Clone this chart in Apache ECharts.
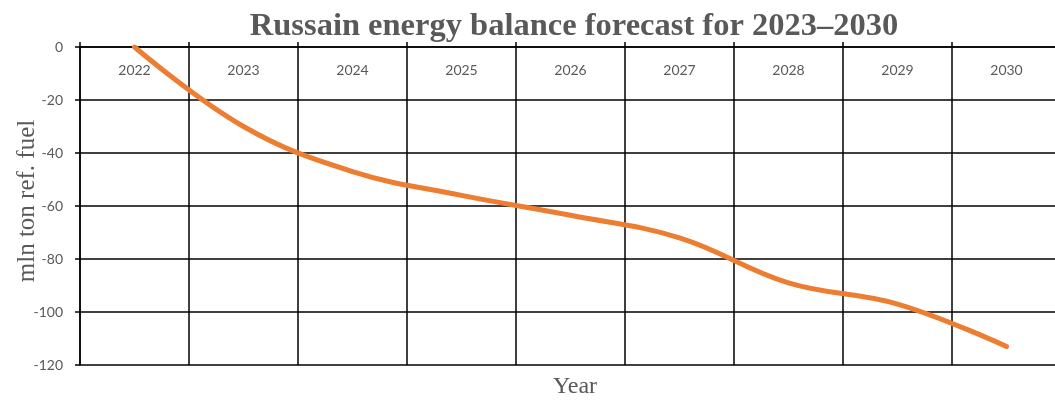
<!DOCTYPE html>
<html>
<head>
<meta charset="utf-8">
<script src="https://cdn.jsdelivr.net/npm/echarts@6/dist/echarts.min.js"></script>
<style>html,body{margin:0;padding:0;background:#fff}#c{width:1055px;height:405px}</style>
</head>
<body>
<div id="c"></div>
<script>
const categories = ['2022','2023','2024','2025','2026','2027','2028','2029','2030'];
const balance = [0, -30, -47, -56, -63.5, -72, -89, -97, -113];
const yTicks = { min: -120, max: 0, interval: 20 };

const chart = echarts.init(document.getElementById('c'), null, { renderer: 'canvas' });
chart.setOption({
  animation: false,
  backgroundColor: '#ffffff',
  title: [
    {
      text: 'Russain energy balance forecast for 2023–2030',
      left: 569, top: 5, textAlign: 'center',
      textStyle: { fontFamily: '"Liberation Serif", "DejaVu Serif", serif', fontWeight: 'bold', fontSize: 32.5, color: '#595959' }
    },
    {
      text: 'Year',
      left: 570, top: 370, textAlign: 'center',
      textStyle: { fontFamily: '"Liberation Serif", "DejaVu Serif", serif', fontWeight: 'normal', fontSize: 24, color: '#595959' }
    }
  ],
  grid: { left: 80, right: -6, top: 47, bottom: 40, containLabel: false, outerBoundsMode: 'none' },
  xAxis: {
    type: 'category',
    data: categories,
    position: 'top',
    boundaryGap: true,
    axisLine: { show: true, lineStyle: { color: '#000', width: 1.5 } },
    axisTick: { show: true, inside: false, length: 5, alignWithLabel: false, lineStyle: { color: '#000', width: 1.5 } },
    axisLabel: { inside: true, margin: 16, color: '#595959', fontSize: 14, fontFamily: 'Lato, "Open Sans", sans-serif' },
    splitLine: { show: true, lineStyle: { color: '#000', width: 1.5 } }
  },
  yAxis: {
    type: 'value',
    min: yTicks.min, max: yTicks.max, interval: yTicks.interval,
    name: 'mln ton ref. fuel',
    nameLocation: 'middle',
    nameRotate: 90,
    nameGap: 40,
    nameMoveOverlap: false,
    nameTextStyle: { fontFamily: '"Liberation Serif", "DejaVu Serif", serif', fontSize: 25, color: '#595959', padding: [0, 0, 0, 10] },
    axisLine: { show: true, lineStyle: { color: '#000', width: 1.5 } },
    axisTick: { show: true, length: 5, lineStyle: { color: '#000', width: 1.5 } },
    axisLabel: { margin: 17, color: '#595959', fontSize: 14, fontFamily: 'Lato, "Open Sans", sans-serif' },
    splitLine: { show: true, lineStyle: { color: '#000', width: 1.5 } }
  },
  series: [{
    type: 'line',
    data: balance,
    smooth: 0.4,
    showSymbol: false,
    lineStyle: { color: '#ED7D31', width: 5, cap: 'round' },
    z: 5
  }]
});
</script>
</body>
</html>
